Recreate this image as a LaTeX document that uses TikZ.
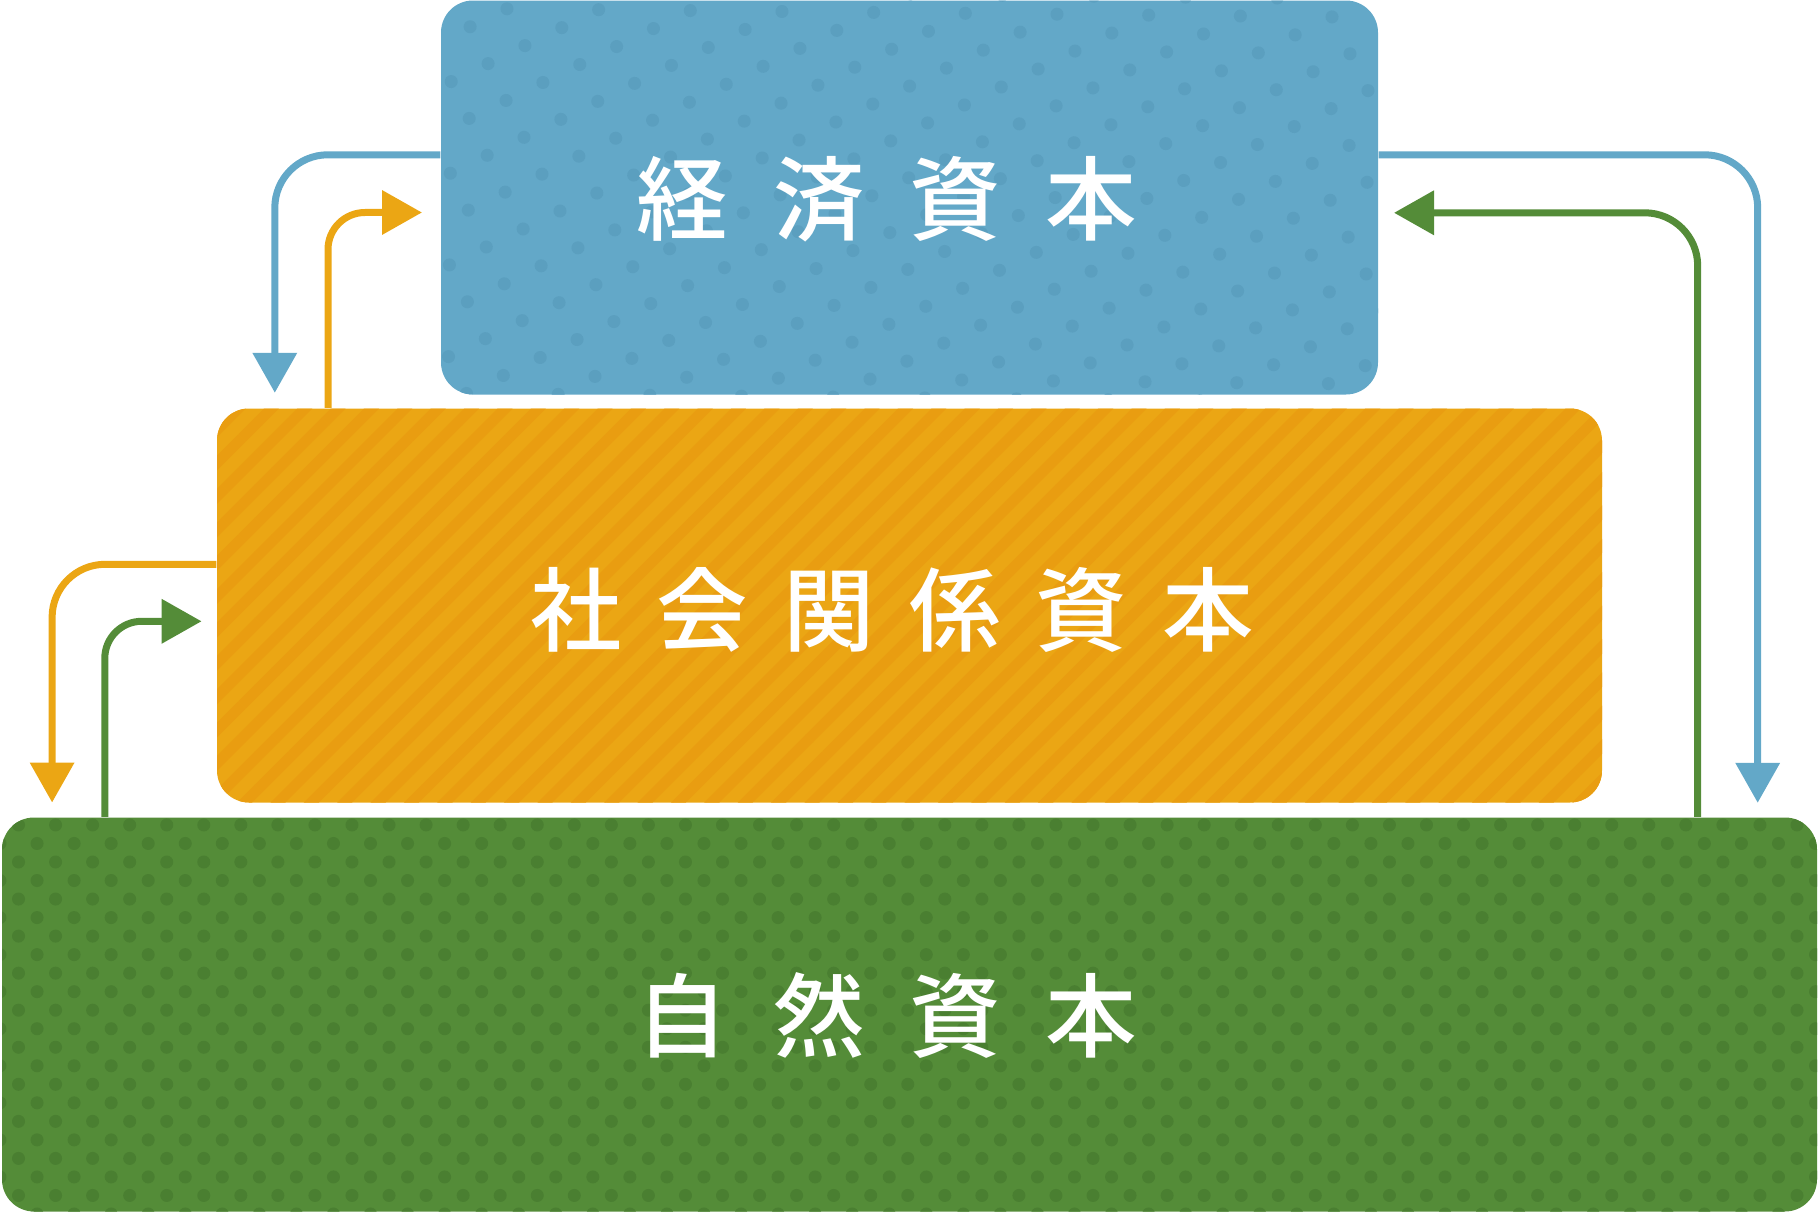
\documentclass[tikz,border=0pt]{standalone}
\usepackage{fontspec}
\newfontfamily\jpfont{Noto Sans CJK JP Medium}
\usetikzlibrary{arrows.meta,patterns.meta}
\definecolor{econblue}{RGB}{99,168,200}
\definecolor{econdot}{RGB}{91,159,191}
\definecolor{socorange}{RGB}{235,166,20}
\definecolor{socstripe}{RGB}{233,157,17}
\definecolor{natgreen}{RGB}{84,140,56}
\definecolor{natdot}{RGB}{74,127,49}
\newcommand{\wgap}{\kern4.5mm}
\newcommand{\ngap}{\kern3.5mm}
\tikzset{
  capbox/.style={minimum width=#1, minimum height=39.4mm, inner sep=0pt,
    rounded corners=3.2mm, text=white, text depth=0.6mm,
    font=\jpfont\fontsize{26}{30}\selectfont},
  flow/.style={line width=0.7mm, -{Triangle[length=4mm,width=4.3mm]},
    rounded corners=#1},
}
\begin{document}
\begin{tikzpicture}[x=0.1mm,y=-0.1mm]
\useasboundingbox (0,0) rectangle (1819,1214);
\node[capbox=93.7mm, fill=econblue,
  postaction={pattern={Dots[radius=0.65mm,distance=4.1mm,angle=26]}, pattern color=econdot}]
  (econ) at (909.5,197.5) {経\wgap 済\wgap 資\wgap 本\wgap};
\node[capbox=138.5mm, text depth=0pt, fill=socorange,
  postaction={pattern={Lines[angle=45,distance=2.36mm,line width=1.05mm]}, pattern color=socstripe}]
  (social) at (909.5,605.5) {社\ngap 会\ngap 関\ngap 係\ngap 資\ngap 本\ngap};
\node[capbox=181.5mm, fill=natgreen,
  postaction={pattern={Dots[radius=0.65mm,distance=2.62mm,angle=45]}, pattern color=natdot}]
  (natural) at (909.5,1014.5) {自\wgap 然\wgap 資\wgap 本\wgap};
% left side
\draw[flow=5.3mm, econblue] ([yshift=-15.5mm]econ.north west) -| ([xshift=5.85mm,yshift=1.5mm]social.north west);
\draw[flow=3.7mm, socorange] ([xshift=11.17mm]social.north west) |- ([xshift=-1.83mm,yshift=-21.27mm]econ.north west);
\draw[flow=5.3mm, socorange] ([yshift=-15.65mm]social.north west) -| ([xshift=5.08mm,yshift=1.43mm]natural.north west);
\draw[flow=3.7mm, natgreen] ([xshift=10.35mm]natural.north west) |- ([xshift=-1.47mm,yshift=-21.35mm]social.north west);
% right side
\draw[flow=5.3mm, econblue] ([yshift=-15.5mm]econ.north east) -| ([xshift=-6mm,yshift=1.4mm]natural.north east);
\draw[flow=5.3mm, natgreen] ([xshift=-12mm]natural.north east) |- ([xshift=1.53mm,yshift=-21.3mm]econ.north east);
\end{tikzpicture}
\end{document}
